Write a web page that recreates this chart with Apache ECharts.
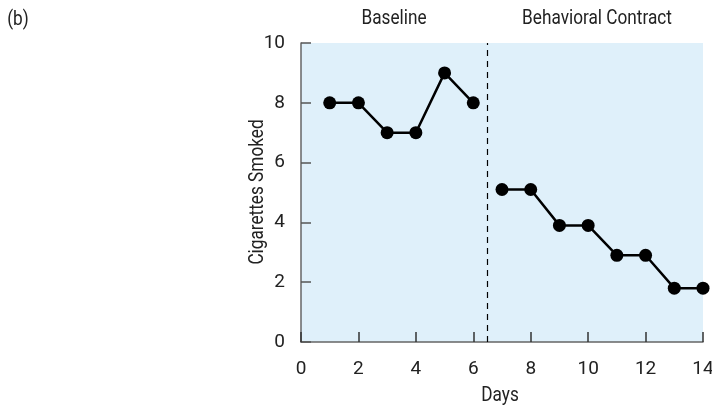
<!DOCTYPE html>
<html><head><meta charset="utf-8">
<script src="https://cdn.jsdelivr.net/npm/echarts@6/dist/echarts.min.js"></script>
<style>html,body{margin:0;padding:0;background:#fff}#c{width:712px;height:408px}</style>
</head><body><div id="c"></div>
<script>
const baselineDays = [1, 2, 3, 4, 5, 6];
const baselineValues = [8, 8, 7, 7, 9, 8];
const contractDays = [7, 8, 9, 10, 11, 12, 13, 14];
const contractValues = [5.1, 5.1, 3.9, 3.9, 2.9, 2.9, 1.8, 1.8];
const phaseChange = 6.5;
const phaseLabels = ['Baseline', 'Behavioral Contract'];
const xAxisTitle = 'Days';
const yAxisTitle = 'Cigarettes Smoked';
const panelLabel = '(b)';

const FONT = 'Roboto';
const txt = '#222';
const SX = 0.86;
const chart = echarts.init(document.getElementById('c'), null, {renderer: 'canvas'});

function pairs(xs, ys) { return xs.map((x, i) => [x, ys[i]]); }
function label(text, x, y, rot) {
  return {
    type: 'text', x: x, y: y, scaleX: SX, rotation: rot || 0, silent: true,
    style: {text: text, fontSize: 20, fontFamily: FONT, fill: txt, align: 'center', verticalAlign: 'middle'}
  };
}

const common = {
  type: 'line', symbol: 'circle', symbolSize: 13,
  itemStyle: {color: '#000'}, lineStyle: {color: '#000', width: 2.5}, silent: true, z: 3
};

chart.setOption({
  animation: false,
  textStyle: {fontFamily: FONT},
  grid: {left: 301, right: 9, top: 43, bottom: 66, show: true, backgroundColor: '#dff0fa', borderWidth: 0,
         containLabel: false, outerBoundsMode: 'none'},
  xAxis: {
    type: 'value', min: 0, max: 14, interval: 2,
    axisLine: {lineStyle: {color: '#666', width: 1.5}},
    axisTick: {inside: true, length: 10, lineStyle: {color: '#333', width: 1.5}},
    axisLabel: {fontFamily: FONT, fontSize: 19, color: txt, margin: 18},
    splitLine: {show: false}
  },
  yAxis: {
    type: 'value', min: 0, max: 10, interval: 2,
    axisLine: {show: true, lineStyle: {color: '#666', width: 1.5}},
    axisTick: {show: true, inside: true, length: 10, lineStyle: {color: '#555', width: 1.5}},
    axisLabel: {fontFamily: FONT, fontSize: 19, color: txt, margin: 16},
    splitLine: {show: false}
  },
  graphic: [
    label(panelLabel, 18, 20),
    label(phaseLabels[0], 394, 19),
    label(phaseLabels[1], 597, 19),
    label(xAxisTitle, 500, 396),
    label(yAxisTitle, 258, 192, Math.PI / 2)
  ],
  series: [
    Object.assign({}, common, {
      data: pairs(baselineDays, baselineValues),
      markLine: {
        silent: true, symbol: 'none',
        lineStyle: {color: '#000', type: [6, 5], width: 1.2},
        label: {show: false},
        data: [[{coord: [phaseChange, 0]}, {coord: [phaseChange, 10]}]]
      }
    }),
    Object.assign({}, common, {data: pairs(contractDays, contractValues)})
  ]
});
</script></body></html>
